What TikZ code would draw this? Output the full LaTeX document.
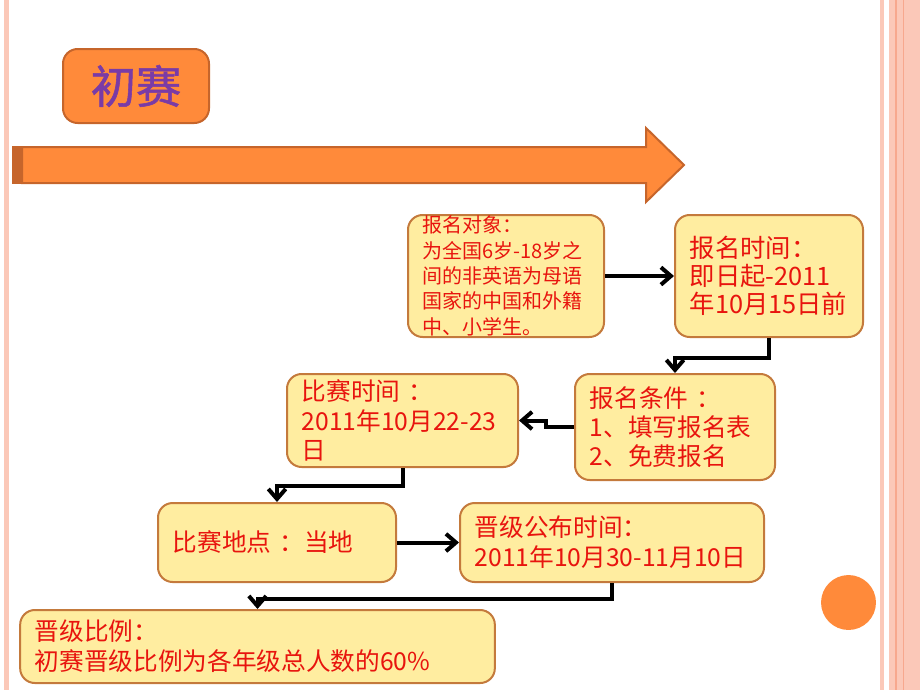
\documentclass[tikz,border=0pt]{standalone}
\usepackage{fontspec}
\newfontfamily\cjk{Noto Sans CJK SC}
\newfontfamily\cjktitle[FakeBold=1.2]{Noto Sans CJK SC}
\usetikzlibrary{arrows.meta}
\definecolor{boxfill}{HTML}{FFEDA0}
\definecolor{boxline}{HTML}{C47A3C}
\definecolor{stageorange}{HTML}{FF8A3A}
\definecolor{stageline}{HTML}{C6652B}
\definecolor{stagepurple}{HTML}{7A3BA6}
\definecolor{txtred}{HTML}{E8140E}
\definecolor{edgepink}{HTML}{FBC8B8}
\definecolor{edgedark}{HTML}{F7A88E}
\begin{document}
\begin{tikzpicture}[x=0.75pt,y=-0.75pt]
	\tikzstyle{infobox} = [draw=boxline,fill=boxfill,line width=1.5pt,rounded corners=11pt,align=left,text=txtred,inner xsep=11pt,inner ysep=0pt]
	\tikzstyle{flow} = [line width=3pt,-{Straight Barb[length=7.5pt,width=13pt]}]
	\useasboundingbox (0,0) rectangle (920,690);
	% page edges
	\fill[edgepink] (4,0) rectangle (9,690);
	\fill[edgepink] (880,0) rectangle (884,690);
	\fill[edgepink] (889,0) rectangle (920,690);
	\fill[edgedark] (895,0) rectangle (897,690);
	\fill[edgedark] (903,0) rectangle (904,690);
	% title and big arrow
	\node[draw=stageline,fill=stageorange,line width=1.5pt,rounded corners=11pt,minimum width=109.5pt,minimum height=55.5pt,text=stagepurple,font=\cjktitle\fontsize{34pt}{36pt}\selectfont](stage)at(136,86){初赛};
	\filldraw[fill=stageline,draw=stageline,line width=1pt] (13,147) rectangle (20,183);
	\filldraw[fill=stageorange,draw=stageline,line width=1.5pt] (22,147) -- (646,147) -- (646,128) -- (684,165) -- (646,202) -- (646,183) -- (22,183) -- cycle;
	\fill[stageorange] (848.5,602.5) circle (20.6pt);
	% info boxes
	\node[infobox,text width=125pt,minimum height=91.5pt,font=\cjk\fontsize{15pt}{19pt}\selectfont](target)at(506,276){报名对象：\\为全国6岁-18岁之\\间的非英语为母语\\国家的中国和外籍\\中、小学生。};
	\node[infobox,text width=119pt,minimum height=91.5pt,font=\cjk\fontsize{19pt}{21pt}\selectfont](deadline)at(769,276){报名时间：\\即日起-2011\\年10月15日前};
	\node[infobox,text width=128pt,minimum height=79.5pt,font=\cjk\fontsize{18.5pt}{22pt}\selectfont](condition)at(675,427){报名条件 ：\\1、填写报名表\\2、免费报名};
	\node[infobox,text width=151.25pt,minimum height=69.75pt,font=\cjk\fontsize{18.5pt}{22pt}\selectfont](matchtime)at(402.5,420.5){比赛时间 ：\\2011年10月22-23\\日};
	\node[infobox,text width=156.5pt,minimum height=59.25pt,font=\cjk\fontsize{18.5pt}{22.5pt}\selectfont](venue)at(277,542.5){比赛地点 ：当地};
	\node[infobox,text width=206pt,minimum height=59.25pt,font=\cjk\fontsize{18.5pt}{22.5pt}\selectfont](announce)at(612,542.5){晋级公布时间：\\2011年10月30-11月10日};
	\node[infobox,text width=334pt,minimum height=54.75pt,font=\cjk\fontsize{18.5pt}{22.5pt}\selectfont](ratio)at(257.5,646.5){晋级比例：\\初赛晋级比例为各年级总人数的60\%};
	% connectors
	\path[flow] (target) edge (deadline)
	(venue) edge (announce);
	\draw[flow] (deadline.south) -- ++(0,20) -| (condition.north);
	\draw[flow] (condition.west) -- ++(-28,0) |- (matchtime.east);
	\draw[flow] (matchtime.south) -- ++(0,18) -| (venue.north);
	\draw[flow] (announce.south) -- ++(0,16) -| (ratio.north);
\end{tikzpicture}
\end{document}
